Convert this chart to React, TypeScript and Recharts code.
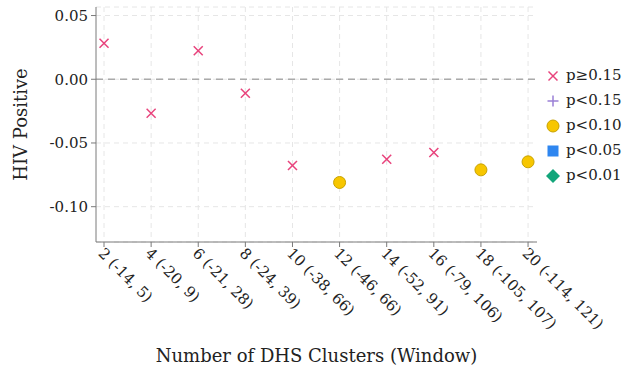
import React from 'react';
import { ScatterChart, Scatter, XAxis, YAxis, CartesianGrid, ReferenceLine, Label } from 'recharts';

const categories = ['2 (-14, 5)', '4 (-20, 9)', '6 (-21, 28)', '8 (-24, 39)', '10 (-38, 66)', '12 (-46, 66)', '14 (-52, 91)', '16 (-79, 106)', '18 (-105, 107)', '20 (-114, 121)'];
const estimates = [0.0282, -0.0266, 0.0224, -0.011, -0.0677, -0.081, -0.0627, -0.0575, -0.0711, -0.0648];
const pGroups = ['p≥0.15', 'p≥0.15', 'p≥0.15', 'p≥0.15', 'p≥0.15', 'p<0.10', 'p≥0.15', 'p≥0.15', 'p<0.10', 'p<0.10'];
const legendLabels = ['p≥0.15', 'p<0.15', 'p<0.10', 'p<0.05', 'p<0.01'];
const yTicks = [-0.1, -0.05, 0, 0.05];

const FONT = '"DejaVu Serif", serif';
const AXIS = '#7a7a7a';

const colors: Record<string, string> = {
  'p≥0.15': '#e8437c',
  'p<0.15': '#9a7fd6',
  'p<0.10': '#f7c600',
  'p<0.05': '#2e86f0',
  'p<0.01': '#13a57a',
};

const Marker = ({ kind, cx, cy }: { kind: string; cx: number; cy: number }) => {
  const c = colors[kind];
  if (kind === 'p≥0.15') {
    const s = 4.5;
    return (
      <g stroke={c} strokeWidth={1.5}>
        <line x1={cx - s} y1={cy - s} x2={cx + s} y2={cy + s} />
        <line x1={cx - s} y1={cy + s} x2={cx + s} y2={cy - s} />
      </g>
    );
  }
  if (kind === 'p<0.15') {
    const s = 5.5;
    return (
      <g stroke={c} strokeWidth={1.5}>
        <line x1={cx - s} y1={cy} x2={cx + s} y2={cy} />
        <line x1={cx} y1={cy - s} x2={cx} y2={cy + s} />
      </g>
    );
  }
  if (kind === 'p<0.10') {
    return <circle cx={cx} cy={cy} r={6} fill={c} stroke="#c8a200" strokeWidth={1} />;
  }
  if (kind === 'p<0.05') {
    return <rect x={cx - 5.5} y={cy - 5.5} width={11} height={11} fill={c} />;
  }
  return <path d={`M${cx},${cy - 7} L${cx + 7},${cy} L${cx},${cy + 7} L${cx - 7},${cy} Z`} fill={c} />;
};

const seriesData = legendLabels.map((g) =>
  estimates
    .map((v, i) => ({ x: i + 1, y: v, g: pGroups[i] }))
    .filter((d) => d.g === g)
);

const XTick = (props: any) => {
  const { x, y, payload } = props;
  const label = categories[payload.value - 1];
  return (
    <g transform={`translate(${x},${y})`}>
      <text transform="rotate(45)" x={-1} y={0} dy="0.55em" textAnchor="start" fontFamily={FONT} fontSize={15} fill="#222">
        {label}
      </text>
    </g>
  );
};

const LegendBox = () => (
  <div style={{ position: 'absolute', left: 543, top: 63, fontFamily: FONT, fontSize: 15, color: '#222', lineHeight: '25px' }}>
    {legendLabels.map((l) => (
      <div key={l} style={{ display: 'flex', alignItems: 'center', height: 25 }}>
        <svg width={22} height={20} style={{ marginRight: 1 }}>
          <Marker kind={l} cx={10} cy={10} />
        </svg>
        <span>{l}</span>
      </div>
    ))}
  </div>
);

export default function App() {
  return (
    <div style={{ position: 'absolute', left: 0, top: 0, width: 624, height: 371, background: '#fff' }}>
      <ScatterChart width={624} height={371} margin={{ top: 7, right: 87, bottom: 0, left: 0 }}>
        <CartesianGrid stroke="#e6e6e6" strokeDasharray="5 4" verticalValues={[1, 2, 3, 4, 5, 6, 7, 8, 9, 10]} />
        <XAxis
          type="number"
          dataKey="x"
          domain={[0.83, 10.19]}
          ticks={[1, 2, 3, 4, 5, 6, 7, 8, 9, 10]}
          interval={0}
          height={129}
          stroke={AXIS}
          tickSize={5}
          tickMargin={2}
          tick={<XTick />}
          allowDataOverflow
        >
          <Label value="Number of DHS Clusters (Window)" position="insideBottom" offset={9} style={{ fontFamily: FONT, fontSize: 18, fill: '#222' }} />
        </XAxis>
        <YAxis
          type="number"
          dataKey="y"
          domain={[-0.1277, 0.0567]}
          ticks={yTicks}
          width={96}
          stroke={AXIS}
          tickSize={5}
          tickMargin={3}
          tickFormatter={(v: number) => v.toFixed(2)}
          tick={{ fontFamily: FONT, fontSize: 15, fill: '#222' }}
          allowDataOverflow
        >
          <Label value="HIV Positive" angle={-90} position="center" dx={-27} style={{ fontFamily: FONT, fontSize: 18, fill: '#222', textAnchor: 'middle' }} />
        </YAxis>
        <ReferenceLine y={0} stroke="#aaaaaa" strokeWidth={1.5} strokeDasharray="7 5" />
        {legendLabels.map((g, i) => (
          <Scatter
            key={g}
            name={g}
            data={seriesData[i]}
            fill={colors[g]}
            isAnimationActive={false}
            shape={(p: any) => <Marker kind={g} cx={p.cx} cy={p.cy} />}
          />
        ))}
      </ScatterChart>
      <LegendBox />
    </div>
  );
}
